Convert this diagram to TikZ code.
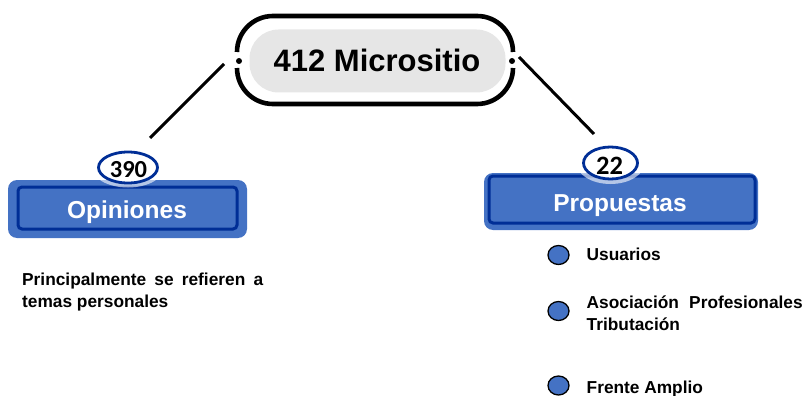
\documentclass[tikz,border=0pt]{standalone}
\usepackage{fontspec}
\setmainfont{Liberation Sans}
\newfontfamily\numfont{Carlito}
\usetikzlibrary{shapes.geometric}
\definecolor{boxblue}{HTML}{4472C4}
\definecolor{rimblue}{RGB}{0,46,150}
\definecolor{pillgray}{HTML}{E6E6E6}
\tikzset{
  connector/.style={line width=3pt, black},
  rim/.style={line width=4.6pt, black, rounded corners=36pt},
  outerbox/.style={fill=boxblue, rounded corners=9pt, inner sep=0pt},
  innerbox/.style={draw=rimblue, line width=3pt, fill=boxblue, rounded corners=4pt, inner sep=0pt},
  boxtext/.style={text=white, font=\bfseries\fontsize{24.5}{28}\selectfont, inner sep=0pt},
  badge/.style={ellipse, draw=rimblue, line width=2.8pt, fill=white, inner sep=0pt, outer sep=0pt},
  halo/.style={ellipse, fill=white, fill opacity=0.6, inner sep=0pt},
  bullet/.style={ellipse, draw=black, line width=1.3pt, fill=boxblue, minimum width=21pt, minimum height=19pt, inner sep=0pt},
  itemtext/.style={font=\bfseries\fontsize{17.3}{20}\selectfont, anchor=base west, inner sep=0pt},
}
\begin{document}
\begin{tikzpicture}[x=1pt,y=-1pt]
\useasboundingbox (0,0) rectangle (804,396);

% central pill with its split black rim
\node[fill=pillgray, rounded corners=29pt, minimum width=256pt, minimum height=63pt, inner sep=0pt] (main) at (377.5,61) {};
\node[font=\bfseries\fontsize{31}{36}\selectfont, anchor=base, inner sep=0pt] (mainlabel) at (377,72) {412 Micrositio};
\draw[rim] (237,52) -- (237,16) -- (513,16) -- (513,52);
\draw[rim] (237,68) -- (237,104) -- (513,104) -- (513,68);
\fill (239,61) circle (3pt) coordinate (dotL);
\fill (512,61) circle (3pt) coordinate (dotR);

% connectors from the pill to both branches
\coordinate (mainL) at (224,64);
\coordinate (mainR) at (519,57);
\coordinate (opTop) at (150,138);
\coordinate (prTop) at (594,134);
\draw[connector] (mainL) -- (opTop);
\draw[connector] (mainR) -- (prTop);

% left branch: Opiniones
\node[outerbox, minimum width=239pt, minimum height=58pt] (opbg) at (127.5,209) {};
\node[innerbox, minimum width=219pt, minimum height=42pt] (op) at (127.5,208) {};
\node[boxtext, anchor=base] (oplabel) at (127,218) {Opiniones};
\node[halo, minimum width=72pt, minimum height=40pt] (ophalo) at (128,167.5) {};
\node[badge, minimum width=59pt, minimum height=31pt] (opbadge) at (128,167.5) {};
\node[anchor=base, inner sep=0pt, font=\numfont\bfseries\fontsize{24.5}{28}\selectfont] (opnum) at (128.5,177) {390};

% right branch: Propuestas
\node[outerbox, minimum width=274pt, minimum height=57pt] (prbg) at (621,201.5) {};
\node[innerbox, minimum width=266pt, minimum height=47pt] (pr) at (622,199.5) {};
\node[boxtext, anchor=base] (prlabel) at (620,211) {Propuestas};
\node[halo, minimum width=68pt, minimum height=42pt] (prhalo) at (610.5,163) {};
\node[badge, minimum width=54pt, minimum height=32pt] (prbadge) at (610.5,163) {};
\node[anchor=base, inner sep=0pt, font=\numfont\bfseries\fontsize{26.5}{30}\selectfont] (prnum) at (609.5,174) {22};

% note under Opiniones
\node[itemtext] (note1) at (22,285) {\makebox[241pt][s]{Principalmente se refieren a}};
\node[itemtext] (note2) at (22,307) {temas personales};

% list under Propuestas
\node[bullet] (b1) at (558.5,255) {};
\node[bullet] (b2) at (558.5,311) {};
\node[bullet] (b3) at (558.5,385.5) {};
\node[itemtext] (i1) at (586.5,260) {Usuarios};
\node[itemtext] (i2a) at (586.5,308) {\makebox[216pt][s]{Asociación Profesionales}};
\node[itemtext] (i2b) at (586.5,330) {Tributación};
\node[itemtext] (i3) at (586.5,393) {Frente Amplio};
\end{tikzpicture}
\end{document}
